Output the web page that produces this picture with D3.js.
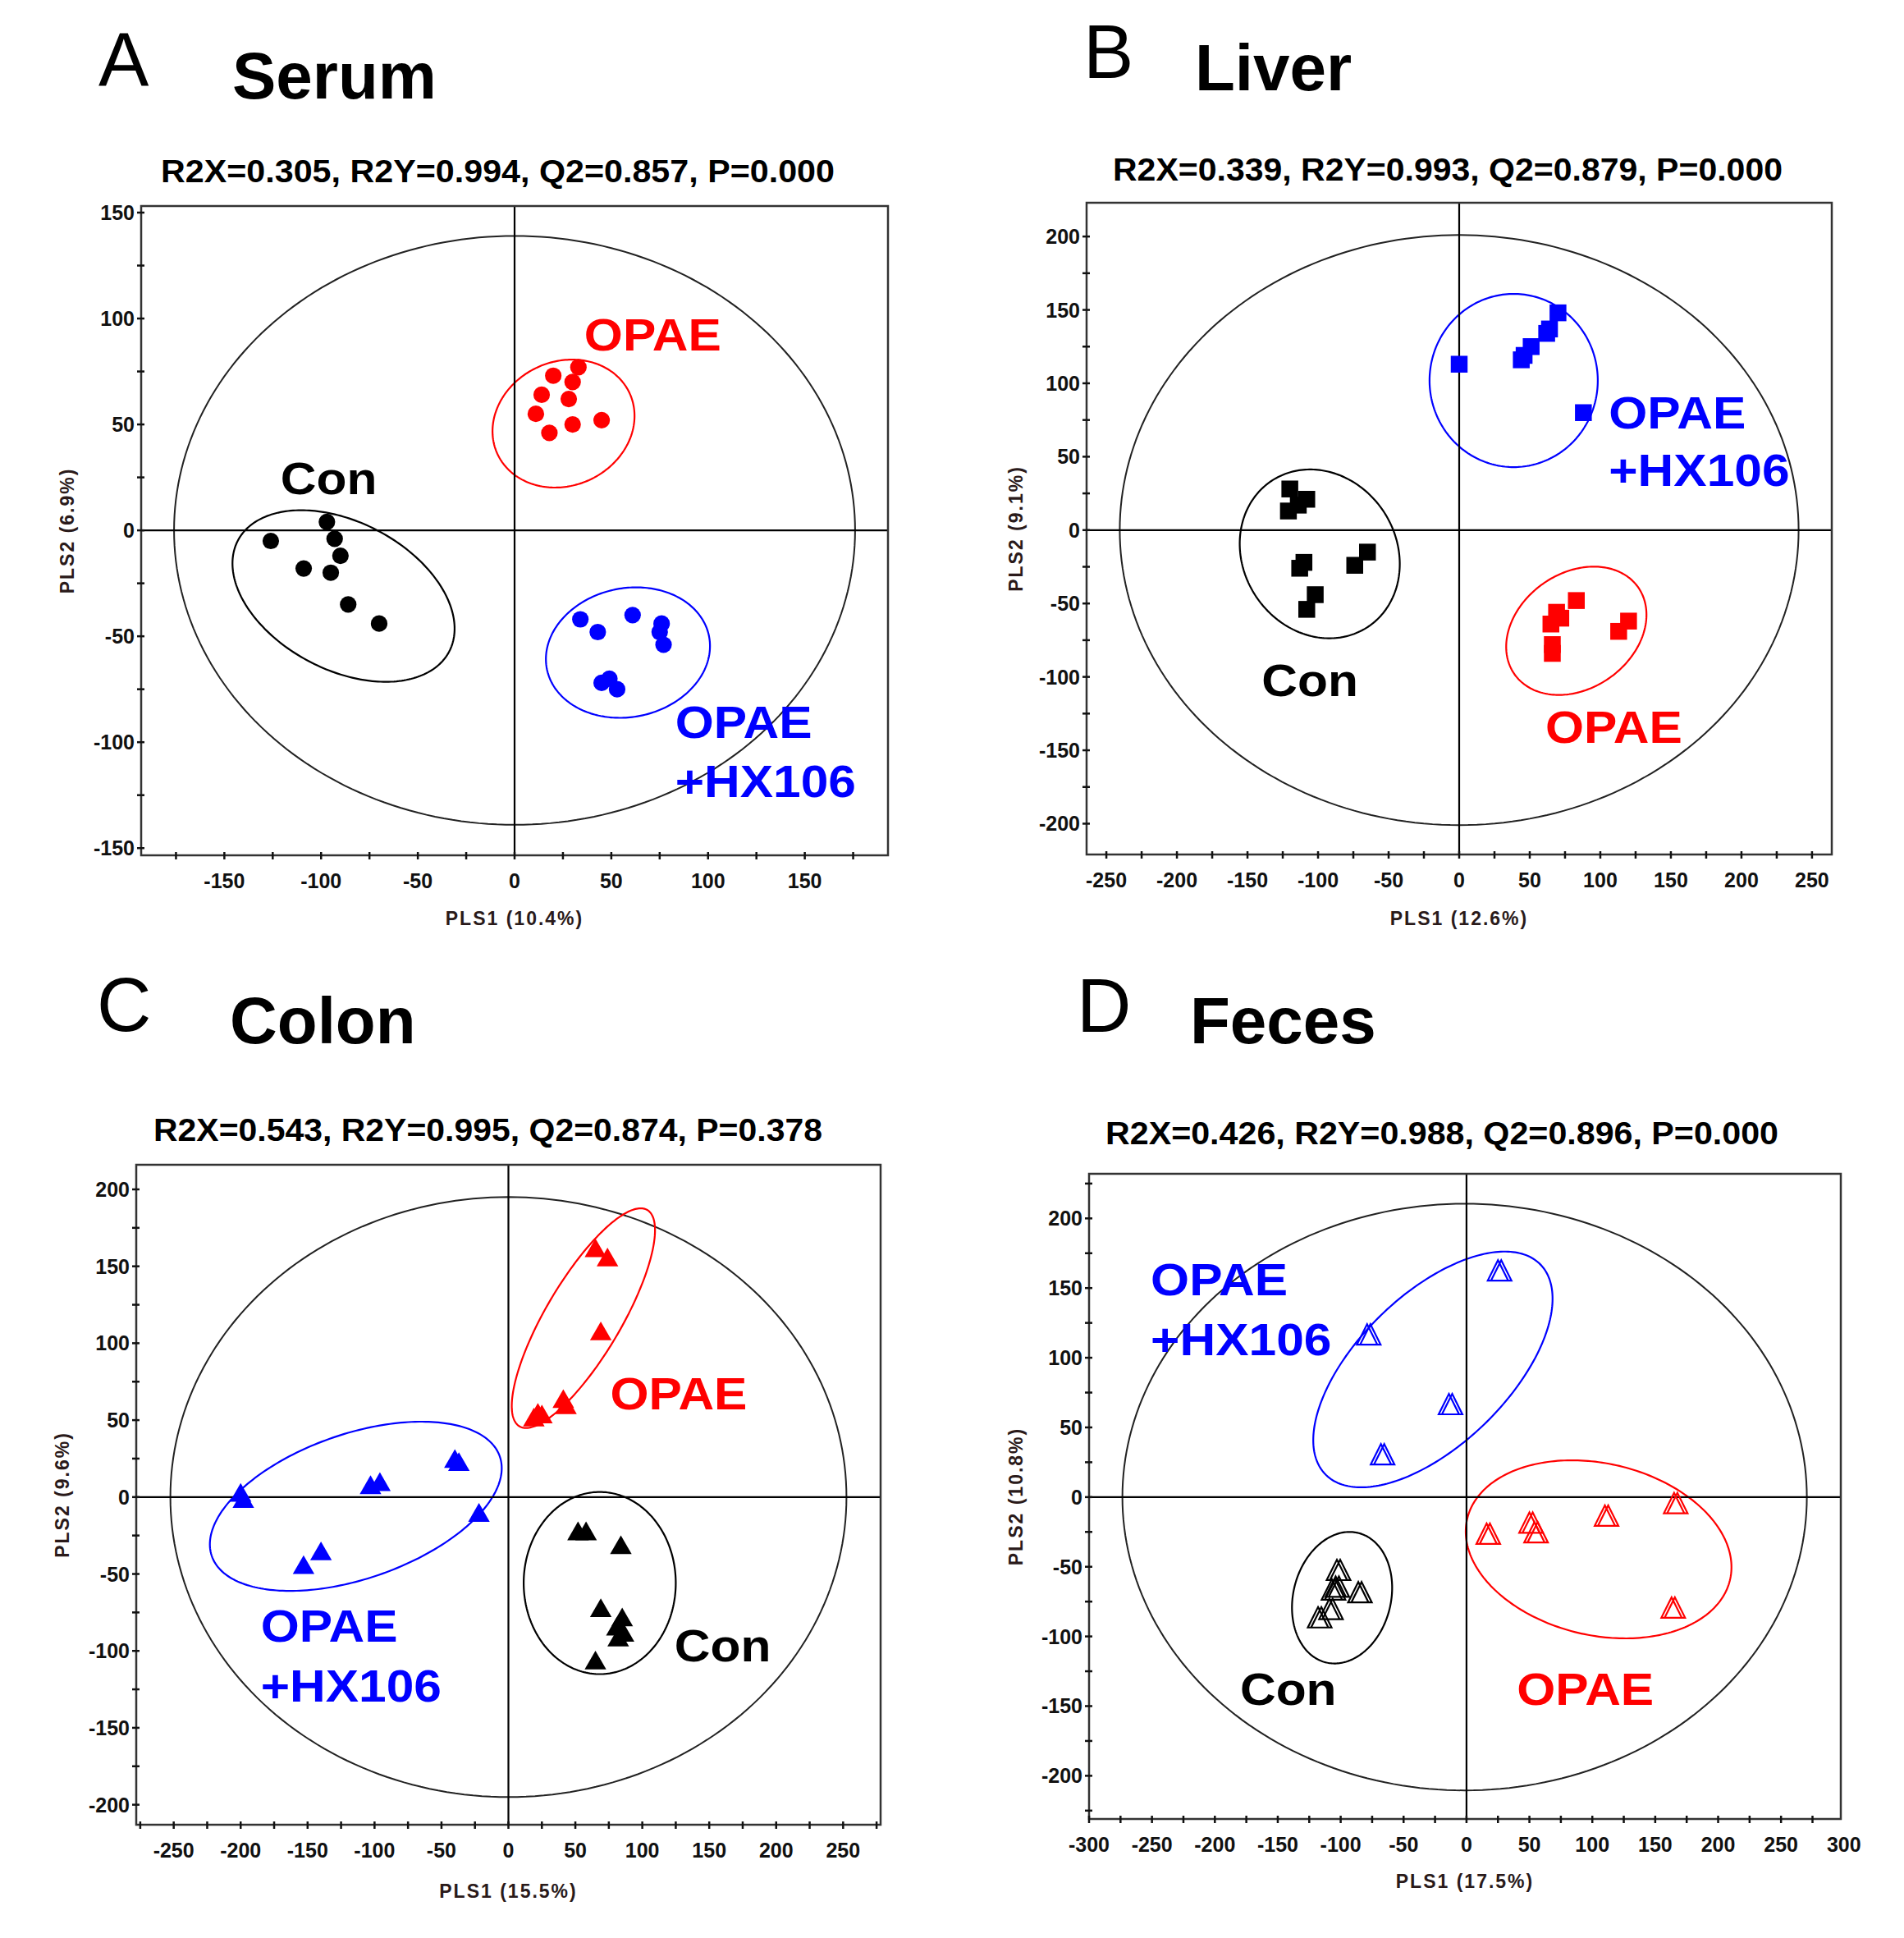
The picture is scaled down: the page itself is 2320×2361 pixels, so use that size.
<!DOCTYPE html>
<html><head><meta charset="utf-8">
<script src="https://cdn.jsdelivr.net/npm/d3@7"></script>
<style>body{margin:0;background:#fff} svg text{font-family:Arial,"Liberation Sans",Helvetica,sans-serif}</style>
</head><body><svg id="c" width="2320" height="2361"></svg>
<script>
// ---------------- DATA ----------------
const groups = ["Con", "OPAE", "OPAE+HX106"];

// Panel A – Serum
const serumStats = "R2X=0.305, R2Y=0.994, Q2=0.857, P=0.000";
const serumAxes = ["PLS1 (10.4%)", "PLS2 (6.9%)"];
const serumXTicks = [-150, -100, -50, 0, 50, 100, 150];
const serumYTicks = [-150, -100, -50, 0, 50, 100, 150];
const serumCon  = [[-126,-5],[-97,4],[-93,-4],[-90,-12],[-109,-18],[-95,-20],[-86,-35],[-70,-44]];
const serumOPAE = [[33,77],[20,73],[30,70],[14,64],[28,62],[11,55],[45,52],[30,50],[18,46]];
const serumHX   = [[34,-42],[43,-48],[61,-40],[76,-44],[75,-48],[77,-54],[45,-72],[49,-70],[53,-75]];
// ellipses: [cx, cy, halfWidth, halfHeight, rho]  (T2 ellipse, Con, OPAE, OPAE+HX106)
const serumEllipses = [[0,0,176,139,0],[-88.4,-31,57.4,40.5,-0.38],[25.3,50.4,36.7,30.2,0.12],[58.6,-57.7,42.4,30.8,0.1]];
const serumLabels = ["Con", "OPAE", "OPAE", "+HX106"];

// Panel B – Liver
const liverStats = "R2X=0.339, R2Y=0.993, Q2=0.879, P=0.000";
const liverAxes = ["PLS1 (12.6%)", "PLS2 (9.1%)"];
const liverXTicks = [-250, -200, -150, -100, -50, 0, 50, 100, 150, 200, 250];
const liverYTicks = [-200, -150, -100, -50, 0, 50, 100, 150, 200];
const liverCon  = [[-120,28],[-121,13],[-108,21],[-114,17],[-113,-26],[-110,-22],[-74,-24],[-65,-15],[-102,-44],[-108,-54]];
const liverOPAE = [[83,-48],[69,-56],[72,-60],[65,-64],[66,-78],[66,-84],[113,-69],[120,-62]];
const liverHX   = [[0,113],[44,116],[46,119],[51,125],[62,134],[64,137],[70,148],[88,80]];
const liverEllipses = [[0,0,240.5,201,0],[-98.8,-16.2,56.7,57.5,-0.12],[83,-68.6,49.7,43.7,0.25],[38.6,101.9,59.6,59,0]];
const liverLabels = ["Con", "OPAE", "OPAE", "+HX106"];

// Panel C – Colon
const colonStats = "R2X=0.543, R2Y=0.995, Q2=0.874, P=0.378";
const colonAxes = ["PLS1 (15.5%)", "PLS2 (9.6%)"];
const colonXTicks = [-250, -200, -150, -100, -50, 0, 50, 100, 150, 200, 250];
const colonYTicks = [-200, -150, -100, -50, 0, 50, 100, 150, 200];
const colonCon  = [[52,-24],[58,-24],[84,-33],[69,-74],[85,-80],[81,-86],[86,-90],[82,-93],[65,-108]];
const colonOPAE = [[65,160],[74,154],[69,106],[41,62],[43,58],[22,53],[19,50],[25,52]];
const colonHX   = [[-200,1],[-198,-3],[-103,6],[-96,8],[-40,23],[-37,21],[-22,-12],[-153,-46],[-140,-37]];
const colonEllipses = [[0,0,252.5,195,0],[68.2,-55.9,56.8,59.2,0],[56,116.3,53.5,71.4,0.8],[-114,-6,109,55,0.45]];
const colonLabels = ["Con", "OPAE", "OPAE", "+HX106"];

// Panel D – Feces
const fecesStats = "R2X=0.426, R2Y=0.988, Q2=0.896, P=0.000";
const fecesAxes = ["PLS1 (17.5%)", "PLS2 (10.8%)"];
const fecesXTicks = [-300, -250, -200, -150, -100, -50, 0, 50, 100, 150, 200, 250, 300];
const fecesYTicks = [-200, -150, -100, -50, 0, 50, 100, 150, 200];
const fecesCon  = [[-103,-53],[-107,-67],[-104,-65],[-86,-69],[-109,-81],[-118,-87]];
const fecesOPAE = [[16,-27],[50,-19],[54,-26],[110,-14],[165,-5],[163,-80]];
const fecesHX   = [[25,162],[-79,116],[-14,66],[-68,30]];
const fecesEllipses = [[-1.5,0,272,210.5,0],[-98.9,-72.2,39.8,47.2,0.15],[105,-37.5,105.6,63.9,-0.2],[-26.7,91.6,95.1,84.6,0.6]];
const fecesLabels = ["Con", "OPAE", "OPAE", "+HX106"];

// ---------------- LAYOUT ----------------
const colors = {Con:"#000000", OPAE:"#ff0000", HX:"#0000ff"};
const panels = [
  {letter:"A", title:"Serum", stats:serumStats, axes:serumAxes, xt:serumXTicks, yt:serumYTicks,
   pts:[serumCon, serumOPAE, serumHX], ell:serumEllipses, labels:serumLabels,
   frame:[172,251,1082,1042], xdom:[-193,193], ydom:[-153.4,153.1], shape:"circle",
   letterPos:[120,105], titlePos:[283,120], statsPos:[196,222,821], xlabY:1127, ylabX:90,
   labelPos:[[-121,17],[36,85],[83,-98],[83,-126]]},
  {letter:"B", title:"Liver", stats:liverStats, axes:liverAxes, xt:liverXTicks, yt:liverYTicks,
   pts:[liverCon, liverOPAE, liverHX], ell:liverEllipses, labels:liverLabels,
   frame:[1324,247,2232,1041], xdom:[-264,264], ydom:[-221,223], shape:"square",
   letterPos:[1320,95], titlePos:[1456,110], statsPos:[1356,220,816], xlabY:1127, ylabX:1246,
   labelPos:[[-140,-113],[61,-145],[106,69],[106,30]]},
  {letter:"C", title:"Colon", stats:colonStats, axes:colonAxes, xt:colonXTicks, yt:colonYTicks,
   pts:[colonCon, colonOPAE, colonHX], ell:colonEllipses, labels:colonLabels,
   frame:[166,1419,1073,2223], xdom:[-278,278], ydom:[-213,216], shape:"triangle",
   letterPos:[118,1256], titlePos:[280,1271], statsPos:[187,1390,815], xlabY:2312, ylabX:84,
   labelPos:[[124,-107],[76,57],[-185,-94],[-185,-133]]},
  {letter:"D", title:"Feces", stats:fecesStats, axes:fecesAxes, xt:fecesXTicks, yt:fecesYTicks,
   pts:[fecesCon, fecesOPAE, fecesHX], ell:fecesEllipses, labels:fecesLabels,
   frame:[1327,1430,2243,2216], xdom:[-300,297.5], ydom:[-231,232], shape:"opentriangle",
   letterPos:[1312,1257], titlePos:[1450,1271], statsPos:[1347,1394,820], xlabY:2300, ylabX:1246,
   labelPos:[[-180,-149],[40,-149],[-251,145],[-251,102]]}
];
const groupColor = [colors.Con, colors.OPAE, colors.HX];
const labelColor = [colors.Con, colors.OPAE, colors.HX, colors.HX];
const ellColor = ["#222", colors.Con, colors.OPAE, colors.HX];

// open triangle drawn with a doubled outline (as in the SIMCA export)
const doubleTriangle = {
  draw(ctx, size) {
    const h = Math.sqrt(size) * 1.35, b = h * 0.5;
    [0, 4].forEach(o => {
      ctx.moveTo(o, -h*0.55);
      ctx.lineTo(o + b, h*0.45);
      ctx.lineTo(o - b, h*0.45);
      ctx.closePath();
    });
  }
};

const svg = d3.select("#c");

function ellipsePts(e){
  const [cx,cy,w,h,r] = e, s = Math.sqrt(1 - r*r);
  return d3.range(0, 360, 1.5).map(a => {
    const t = a*Math.PI/180;
    return [cx + w*Math.cos(t), cy + h*(r*Math.cos(t) + s*Math.sin(t))];
  });
}

panels.forEach(p => {
  const [x0,y0,x1,y1] = p.frame;
  const x = d3.scaleLinear().domain(p.xdom).range([x0,x1]);
  const y = d3.scaleLinear().domain(p.ydom).range([y1,y0]);
  const g = svg.append("g");

  // Titles
  g.append("text").attr("x",p.letterPos[0]).attr("y",p.letterPos[1]).attr("font-size",92).attr("fill","#000").text(p.letter);
  g.append("text").attr("x",p.titlePos[0]).attr("y",p.titlePos[1]).attr("font-size",80).attr("font-weight","bold").attr("fill","#000").text(p.title);
  g.append("text").attr("x",p.statsPos[0]).attr("y",p.statsPos[1]).attr("font-size",38).attr("font-weight","bold")
    .attr("textLength",p.statsPos[2]).attr("lengthAdjust","spacingAndGlyphs").attr("fill","#000").text(p.stats);

  // Ellipses
  const line = d3.line().x(d=>x(d[0])).y(d=>y(d[1])).curve(d3.curveLinearClosed);
  p.ell.forEach((e,i) => {
    g.append("path").attr("d", line(ellipsePts(e))).attr("fill","none")
      .attr("stroke", ellColor[i]).attr("stroke-width", i===0 ? 2 : 2.2);
  });

  // Zero lines
  g.append("line").attr("x1",x0).attr("x2",x1).attr("y1",y(0)).attr("y2",y(0)).attr("stroke","#000").attr("stroke-width",2.2);
  g.append("line").attr("x1",x(0)).attr("x2",x(0)).attr("y1",y0).attr("y2",y1).attr("stroke","#000").attr("stroke-width",2.2);

  // Frame
  g.append("rect").attr("x",x0).attr("y",y0).attr("width",x1-x0).attr("height",y1-y0)
    .attr("fill","none").attr("stroke","#333").attr("stroke-width",2.5);

  // Ticks (major 50, minor 25), crossing the axis line
  const xMinor = d3.range(Math.ceil(p.xdom[0]/25)*25, p.xdom[1]+0.01, 25);
  const yMinor = d3.range(Math.ceil(p.ydom[0]/25)*25, p.ydom[1]+0.01, 25);
  g.selectAll(null).data(xMinor).join("line")
    .attr("x1",d=>x(d)).attr("x2",d=>x(d)).attr("y1",y1-4).attr("y2",y1+5).attr("stroke","#111").attr("stroke-width",2.5);
  g.selectAll(null).data(yMinor).join("line")
    .attr("y1",d=>y(d)).attr("y2",d=>y(d)).attr("x1",x0-5).attr("x2",x0+4).attr("stroke","#111").attr("stroke-width",2.5);
  g.selectAll(null).data(p.xt).join("text")
    .attr("x",d=>x(d)).attr("y",y1+40).attr("text-anchor","middle").attr("font-size",25).attr("font-weight","bold").attr("fill","#111").text(d=>String(d));
  g.selectAll(null).data(p.yt).join("text")
    .attr("x",x0-8).attr("y",d=>y(d)+9).attr("text-anchor","end").attr("font-size",25).attr("font-weight","bold").attr("fill","#111").text(d=>String(d));

  // Axis titles
  g.append("text").attr("x",(x0+x1)/2).attr("y",p.xlabY).attr("text-anchor","middle").attr("font-size",23).attr("font-weight","bold")
    .attr("letter-spacing",2).attr("fill","#2a1a1a").text(p.axes[0]);
  g.append("text").attr("transform",`translate(${p.ylabX},${(y0+y1)/2}) rotate(-90)`).attr("text-anchor","middle").attr("font-size",23).attr("font-weight","bold")
    .attr("letter-spacing",2).attr("fill","#2a1a1a").text(p.axes[1]);

  // Markers
  p.pts.forEach((arr,gi) => {
    const c = groupColor[gi];
    let sym, fill = c, stroke = "none", sw = 0;
    if (p.shape === "circle") sym = d3.symbol().type(d3.symbolCircle).size(320);
    else if (p.shape === "square") sym = d3.symbol().type(d3.symbolSquare).size(420);
    else if (p.shape === "triangle") sym = d3.symbol().type(d3.symbolTriangle).size(300);
    else { sym = d3.symbol().type(doubleTriangle).size(340); fill = "none"; stroke = c; sw = 2.2; }
    g.selectAll(null).data(arr).join("path")
      .attr("d", sym).attr("transform", d => `translate(${x(d[0])},${y(d[1])})`)
      .attr("fill", fill).attr("stroke", stroke).attr("stroke-width", sw);
  });

  // Group labels
  p.labels.forEach((t,i) => {
    const el = g.append("text").attr("x", x(p.labelPos[i][0])).attr("y", y(p.labelPos[i][1]))
      .attr("font-size", 55).attr("font-weight","bold").attr("fill", labelColor[i]).text(t);
    const w = el.node().getComputedTextLength();
    el.attr("textLength", w*1.1).attr("lengthAdjust","spacingAndGlyphs");
  });
});
</script></body></html>
